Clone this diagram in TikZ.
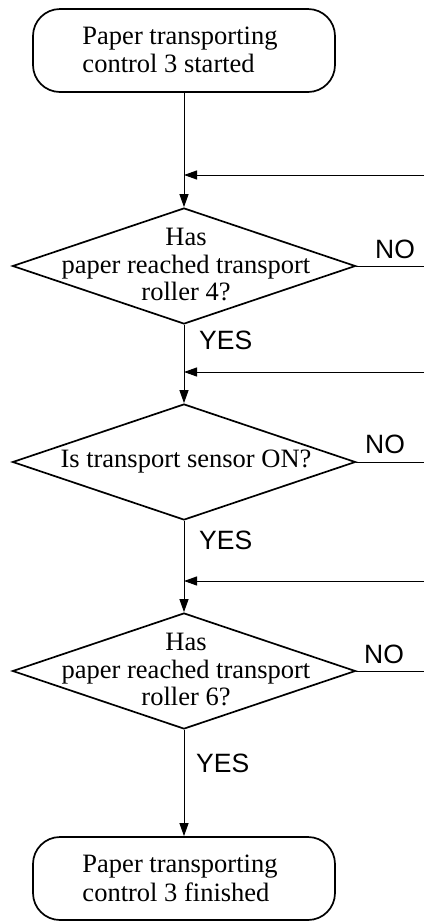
\documentclass[tikz,border=0pt]{standalone}
\usepackage{fontspec}
\setmainfont{Liberation Serif}
\newfontfamily\arialfont{Liberation Sans}
\usetikzlibrary{shapes.geometric,arrows.meta}
\begin{document}
\begin{tikzpicture}[x=1pt,y=-1pt,
  term/.style={draw,line width=1.7pt,rounded corners=27pt,minimum width=302pt,minimum height=83pt,inner sep=0pt},
  decision/.style={draw,diamond,line width=1.7pt,minimum width=343pt,minimum height=116pt,inner sep=0pt},
  ttext/.style={align=left,inner sep=0pt,font=\fontsize{26.5}{28.5}\selectfont},
  qtext/.style={align=center,inner sep=0pt,font=\fontsize{26.5}{27.5}\selectfont},
  lbl/.style={anchor=west,inner sep=0pt,font=\arialfont\fontsize{26.5}{28}\selectfont},
  conn/.style={line width=1pt},
  arr/.style={conn,-{Triangle[length=13pt,width=9pt]}}
]
\useasboundingbox (0,0) rectangle (424,922);
% terminals
\node[term] (s) at (184,50.5) {};
\node[ttext] (st) at (180,50) {Paper transporting\\control 3 started};
\node[term] (e) at (184,878.5) {};
\node[ttext] (et) at (180,878.5) {Paper transporting\\control 3 finished};
% decisions
\node[decision] (d1) at (184,266) {};
\node[qtext] (q1) at (186,265) {Has\\paper reached transport\\roller 4?};
\node[decision] (d2) at (184,462) {};
\node[qtext] (q2) at (186,462) {Is transport sensor ON?};
\node[decision] (d3) at (184,671) {};
\node[qtext] (q3) at (186,670) {Has\\paper reached transport\\roller 6?};
% coordinates
\coordinate (f1) at (424,175);
\coordinate (j1) at (184,175);
\coordinate (f2) at (424,372);
\coordinate (j2) at (184,372);
\coordinate (f3) at (424,581);
\coordinate (j3) at (184,581);
\coordinate (n1) at (424,266);
\coordinate (n2) at (424,462);
\coordinate (n3) at (424,671);
% main flow
\draw[arr] (s.south) -- (d1.north);
\draw[arr] (d1.south) -- (d2.north);
\draw[arr] (d2.south) -- (d3.north);
\draw[arr] (d3.south) -- (e.north);
% feedback
\draw[arr] (f1) -- (j1);
\draw[arr] (f2) -- (j2);
\draw[arr] (f3) -- (j3);
% NO lines
\draw[conn] (d1.east) -- (n1);
\draw[conn] (d2.east) -- (n2);
\draw[conn] (d3.east) -- (n3);
% labels
\node[lbl] (y1) at (199,340) {YES};
\node[lbl] (y2) at (199,540) {YES};
\node[lbl] (y3) at (196,763) {YES};
\node[lbl] (no1) at (375,249) {NO};
\node[lbl] (no2) at (365,444) {NO};
\node[lbl] (no3) at (364,654) {NO};
\end{tikzpicture}
\end{document}
